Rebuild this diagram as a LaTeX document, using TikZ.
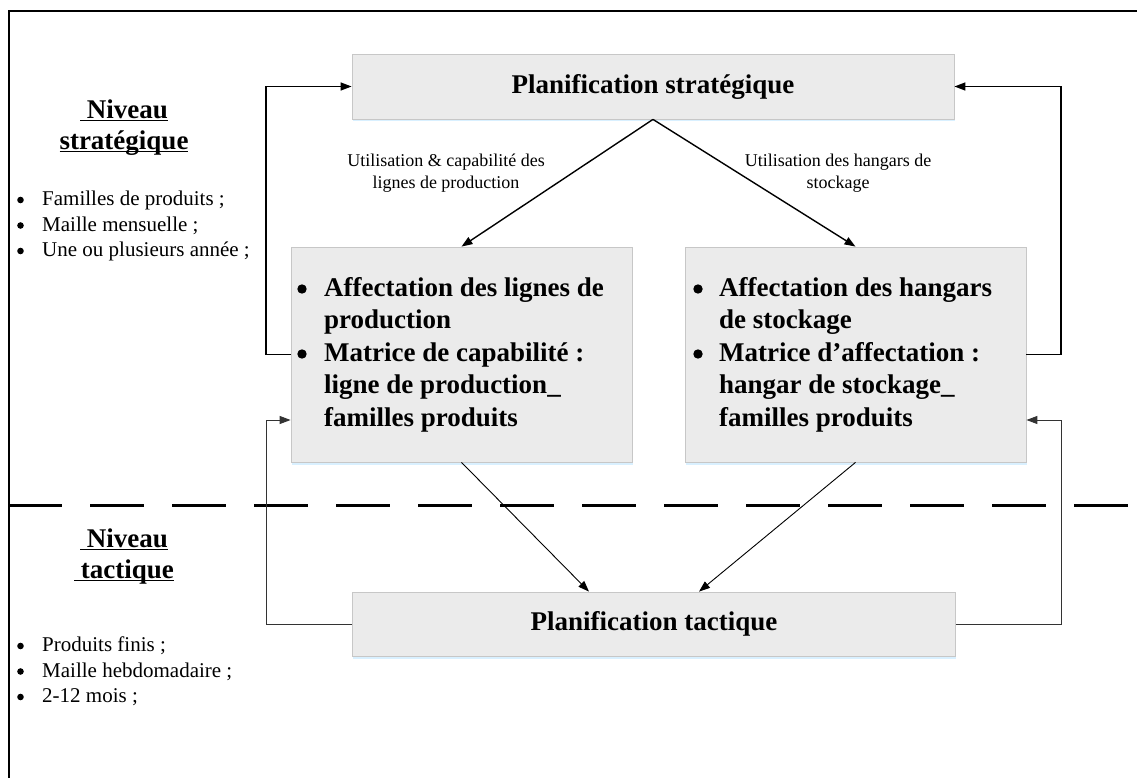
\documentclass[tikz,border=0pt]{standalone}
\usepackage{fontspec}
\setmainfont{Liberation Serif}
\usetikzlibrary{arrows.meta,shadows,calc}
\newcommand\ulw[1]{\underline{\smash{#1}}}
\begin{document}
\begin{tikzpicture}[x=1pt,y=-1pt,
  box/.style={draw=black!22, fill=black!8, line width=0.8pt, inner sep=0pt,
    drop shadow={shadow xshift=0.5pt, shadow yshift=-2.5pt, fill=blue!40!cyan, opacity=0.15}},
  titlefont/.style={font=\fontsize{27}{31}\selectfont\bfseries},
  boxtext/.style={anchor=west, inner sep=0pt, font=\fontsize{27}{32.5}\selectfont\bfseries},
  sidelist/.style={anchor=west, inner sep=0pt, font=\fontsize{21}{25.5}\selectfont},
  heading/.style={align=center, inner sep=0pt, font=\fontsize{27}{31}\selectfont\bfseries},
  lbl/.style={align=center, inner sep=0pt, font=\fontsize{18}{22}\selectfont},
  bigdot/.style={fill=black, draw=none},
  tip/.style={-{Triangle[length=11pt,width=8pt]}},
  arrU/.style={line width=1.4pt, tip},
  arrL/.style={line width=0.9pt, tip},
  fbU/.style={line width=1.4pt, tip},
  fbL/.style={line width=1pt, draw=black!80, tip},
  sep/.style={line width=3pt, dash pattern=on 54pt off 28pt},
  frame/.style={line width=1.5pt}]
\useasboundingbox (0,0) rectangle (1137,778);

% frame
\coordinate (f1) at (9,778);
\coordinate (f2) at (9,11);
\coordinate (f3) at (1137,11);
\draw[frame] (f1) -- (f2) -- (f3);

% boxes
\node[box, titlefont, minimum width=602pt, minimum height=65pt] (top) at (653,86.5) {Planification stratégique};
\node[box, minimum width=341pt, minimum height=215pt] (lbox) at (461.5,354.5) {};
\node[box, minimum width=341pt, minimum height=215pt] (rbox) at (855.5,354.5) {};
\node[box, titlefont, minimum width=603pt, minimum height=64pt] (tac) at (654,624) {Planification tactique};

\node[boxtext] (ltxt) at (324,354.5) {\begin{tabular}{@{}l@{}}
Affectation des lignes de\\
production\\
Matrice de capabilité :\\
ligne de production\_\\
familles produits
\end{tabular}};
\node[boxtext] (rtxt) at (719,354.5) {\begin{tabular}{@{}l@{}}
Affectation des hangars\\
de stockage\\
Matrice d’affectation :\\
hangar de stockage\_\\
familles produits
\end{tabular}};
\fill[bigdot] (302,289) circle (4.7);
\fill[bigdot] (302,354) circle (4.7);
\fill[bigdot] (698,289) circle (4.7);
\fill[bigdot] (698,354) circle (4.7);

% labels
\node[lbl] (lab1) at (446,173) {Utilisation \& capabilité des\\lignes de production};
\node[lbl] (lab2) at (838,173) {Utilisation des hangars de\\stockage};

% side headings and lists
\node[heading] (hs) at (124,135) {\ulw{\ Niveau}\\\ulw{stratégique}};
\node[sidelist] (ls) at (42,226) {\begin{tabular}{@{}l@{}}
Familles de produits ;\\
Maille mensuelle ;\\
Une ou plusieurs année ;
\end{tabular}};
\node[heading] (ht) at (124,564) {\ulw{\ Niveau}\\\ulw{\ tactique}};
\node[sidelist] (lt) at (42,672) {\begin{tabular}{@{}l@{}}
Produits finis ;\\
Maille hebdomadaire ;\\
2-12 mois ;
\end{tabular}};
\foreach \yy in {200,225.5,251,646,671.5,697}
  \fill[bigdot] (20.5,\yy) circle (3.3);

% separator
\coordinate (d1) at (8,505);
\coordinate (d2) at (1137,505);
\draw[sep] (d1) -- (d2);

% diagonal arrows
\draw[arrU] (top.south) -- (lbox.north);
\draw[arrU] (top.south) -- (rbox.north);
\draw[arrL] (lbox.south) -- ([xshift=-65pt]tac.north);
\draw[arrL] (rbox.south) -- ([xshift=45pt]tac.north);

% feedback loops
\coordinate (Lc) at (266,0);
\coordinate (Rc) at (1061,0);
\coordinate (lin) at ([yshift=-65.5pt]lbox.west);
\coordinate (rin) at ([yshift=-65.5pt]rbox.east);
\draw[fbU] (lbox.west) -- (lbox.west -| Lc) -- (top.west -| Lc) -- (top.west);
\draw[fbU] (rbox.east) -- (rbox.east -| Rc) -- (top.east -| Rc) -- (top.east);
\draw[fbL] (tac.west) -- (tac.west -| Lc) -- (lin -| Lc) -- (lin);
\draw[fbL] (tac.east) -- (tac.east -| Rc) -- (rin -| Rc) -- (rin);
\end{tikzpicture}
\end{document}
